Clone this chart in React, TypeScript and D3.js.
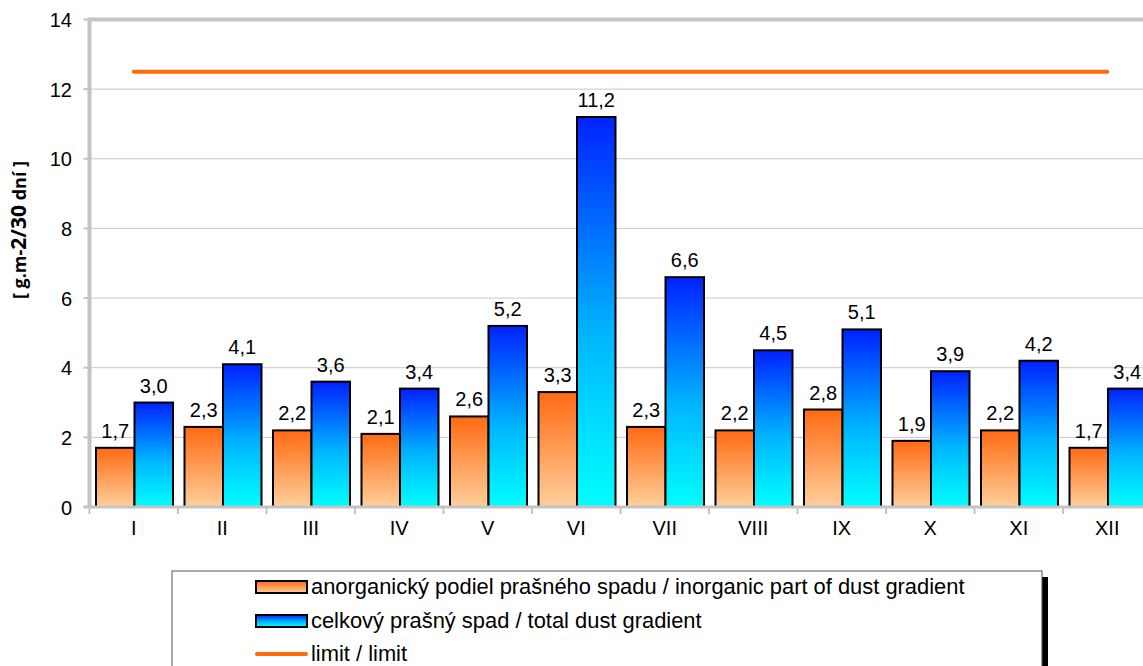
import React, { useEffect, useRef } from "react";
import * as d3 from "d3";

const months = ["I", "II", "III", "IV", "V", "VI", "VII", "VIII", "IX", "X", "XI", "XII"];
const inorganic = [1.7, 2.3, 2.2, 2.1, 2.6, 3.3, 2.3, 2.2, 2.8, 1.9, 2.2, 1.7];
const total = [3.0, 4.1, 3.6, 3.4, 5.2, 11.2, 6.6, 4.5, 5.1, 3.9, 4.2, 3.4];
const limit = 12.5;
const yTicks = [0, 2, 4, 6, 8, 10, 12, 14];
const legendLabels = [
  "anorganický podiel prašného spadu / inorganic part of dust gradient",
  "celkový prašný spad / total dust gradient",
  "limit / limit",
];

const W = 1143;
const H = 666;
const FONT = "'Liberation Sans', Arial, sans-serif";

export default function App() {
  const ref = useRef<SVGSVGElement>(null);

  useEffect(() => {
    const svg = d3.select(ref.current);
    svg.selectAll("*").remove();

    const left = 89.5;
    const band = 88.5;
    const x = d3
      .scaleBand()
      .domain(months)
      .range([left, left + band * months.length])
      .padding(0);
    const y = d3.scaleLinear().domain([0, 14]).range([507, 19.5]);

    const defs = svg.append("defs");
    const og = defs.append("linearGradient").attr("id", "gOrange").attr("x1", 0).attr("y1", 0).attr("x2", 0).attr("y2", 1);
    og.append("stop").attr("offset", "0%").attr("stop-color", "#ff6a12");
    og.append("stop").attr("offset", "100%").attr("stop-color", "#ffcf9c");
    const bg = defs.append("linearGradient").attr("id", "gBlue").attr("x1", 0).attr("y1", 0).attr("x2", 0).attr("y2", 1);
    bg.append("stop").attr("offset", "0%").attr("stop-color", "#0022ff");
    bg.append("stop").attr("offset", "55%").attr("stop-color", "#00b4ff");
    bg.append("stop").attr("offset", "100%").attr("stop-color", "#00ffff");

    // gridlines
    svg
      .selectAll("line.grid")
      .data(yTicks.filter((t) => t > 0 && t < 14))
      .enter()
      .append("line")
      .attr("x1", left)
      .attr("x2", W)
      .attr("y1", (d) => y(d))
      .attr("y2", (d) => y(d))
      .attr("stroke", "#c8c8c8")
      .attr("stroke-width", 1);

    // top border
    svg.append("line").attr("x1", left).attr("x2", W).attr("y1", y(14)).attr("y2", y(14))
      .attr("stroke", "#c4c4c4").attr("stroke-width", 4);

    // y ticks + labels
    svg.selectAll("line.ytick").data(yTicks).enter().append("line")
      .attr("x1", left - 6).attr("x2", left).attr("y1", (d) => y(d)).attr("y2", (d) => y(d))
      .attr("stroke", "#c4c4c4").attr("stroke-width", 2);
    svg.selectAll("text.ylab").data(yTicks).enter().append("text")
      .attr("x", 72).attr("y", (d) => y(d) + 7.5)
      .attr("text-anchor", "end")
      .style("font-family", FONT).style("font-size", "20px").attr("fill", "#000")
      .text((d) => d);

    // y title
    const yt = svg.append("text")
      .attr("transform", "translate(26," + 230 + ") rotate(-90)")
      .attr("text-anchor", "middle")
      .style("font-family", "'Open Sans', 'DejaVu Sans', sans-serif").style("font-weight", "bold")
      .style("font-size", "18px");
    yt.append("tspan").text("[ g.m-");
    yt.append("tspan").style("font-size", "21px").text("2/30");
    yt.append("tspan").text(" dní ]");

    // bars
    const bw = 38.5;
    const off = 6.5;
    const g = svg.append("g");
    g.selectAll("rect.inorg").data(inorganic).enter().append("rect")
      .attr("x", (d, i) => x(months[i])! + off)
      .attr("y", (d) => y(d))
      .attr("width", bw)
      .attr("height", (d) => y(0) - y(d))
      .attr("fill", "url(#gOrange)")
      .attr("stroke", "#000").attr("stroke-width", 2);
    g.selectAll("rect.tot").data(total).enter().append("rect")
      .attr("x", (d, i) => x(months[i])! + off + bw)
      .attr("y", (d) => y(d))
      .attr("width", bw)
      .attr("height", (d) => y(0) - y(d))
      .attr("fill", "url(#gBlue)")
      .attr("stroke", "#000").attr("stroke-width", 2);

    const fmt = (v: number) => v.toFixed(1).replace(".", ",");
    g.selectAll("text.vi").data(inorganic).enter().append("text")
      .attr("x", (d, i) => x(months[i])! + off + bw / 2)
      .attr("y", (d) => y(d) - 10)
      .attr("text-anchor", "middle")
      .style("font-family", FONT).style("font-size", "20px")
      .text((d) => fmt(d));
    g.selectAll("text.vt").data(total).enter().append("text")
      .attr("x", (d, i) => x(months[i])! + off + bw * 1.5)
      .attr("y", (d) => y(d) - 10)
      .attr("text-anchor", "middle")
      .style("font-family", FONT).style("font-size", "20px")
      .text((d) => fmt(d));

    // limit line
    svg.append("line")
      .attr("x1", x(months[0])! + band / 2)
      .attr("x2", x(months[months.length - 1])! + band / 2)
      .attr("y1", y(limit)).attr("y2", y(limit))
      .attr("stroke", "#ff6a0a").attr("stroke-width", 4).attr("stroke-linecap", "round");

    // axes lines
    svg.append("line").attr("x1", left).attr("x2", left).attr("y1", y(14) - 2).attr("y2", y(0) + 1)
      .attr("stroke", "#c4c4c4").attr("stroke-width", 4);
    svg.append("line").attr("x1", left - 6).attr("x2", W).attr("y1", y(0)).attr("y2", y(0))
      .attr("stroke", "#c4c4c4").attr("stroke-width", 3);
    svg.selectAll("line.xtick").data(months).enter().append("line")
      .attr("x1", (d) => x(d)!).attr("x2", (d) => x(d)!)
      .attr("y1", y(0)).attr("y2", y(0) + 7)
      .attr("stroke", "#c4c4c4").attr("stroke-width", 2);
    svg.selectAll("text.xlab").data(months).enter().append("text")
      .attr("x", (d) => x(d)! + band / 2)
      .attr("y", 535)
      .attr("text-anchor", "middle")
      .style("font-family", FONT).style("font-size", "20px")
      .text((d) => d);

    // legend
    const lg = svg.append("g");
    lg.append("rect").attr("x", 1042).attr("y", 577).attr("width", 6).attr("height", 100).attr("fill", "#000");
    lg.append("rect").attr("x", 172).attr("y", 571).attr("width", 870).attr("height", 110)
      .attr("fill", "#fff").attr("stroke", "#555").attr("stroke-width", 1);
    const rows = [587, 621, 654];
    lg.append("rect").attr("x", 256).attr("y", rows[0] - 6).attr("width", 51).attr("height", 12)
      .attr("fill", "url(#gOrange)").attr("stroke", "#000").attr("stroke-width", 2);
    lg.append("rect").attr("x", 256).attr("y", rows[1] - 6).attr("width", 51).attr("height", 12)
      .attr("fill", "url(#gBlue)").attr("stroke", "#000").attr("stroke-width", 2);
    lg.append("line").attr("x1", 257).attr("x2", 306).attr("y1", rows[2]).attr("y2", rows[2])
      .attr("stroke", "#ff6a0a").attr("stroke-width", 4).attr("stroke-linecap", "round");
    lg.selectAll("text.leg").data(legendLabels).enter().append("text")
      .attr("x", 311).attr("y", (d, i) => rows[i] + 7)
      .style("font-family", FONT).style("font-size", "21.9px")
      .text((d) => d);
  }, []);

  return (
    <svg
      ref={ref}
      width={W}
      height={H}
      style={{ position: "absolute", left: 0, top: 0, background: "#fff" }}
    />
  );
}
